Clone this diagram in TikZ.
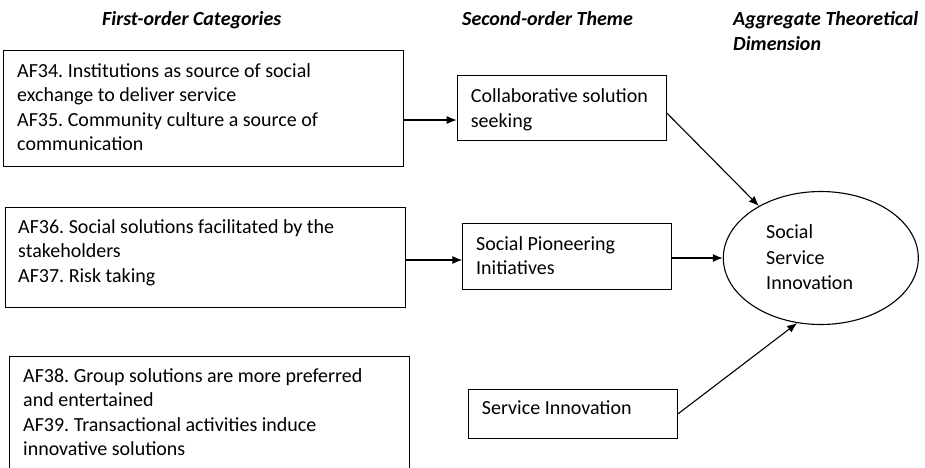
\documentclass[tikz,border=0pt]{standalone}
\usepackage{fontspec}
\setmainfont{Carlito}
\frenchspacing
\usetikzlibrary{shapes.geometric,arrows.meta}
\tikzset{
  box/.style={draw, line width=1.1pt, inner sep=0pt, anchor=north west},
  txt/.style={anchor=base west, inner sep=0pt, align=left, font=\fontsize{20}{24.5}\selectfont},
  head/.style={anchor=base west, inner sep=0pt, align=left, font=\fontsize{20}{24.5}\selectfont\bfseries\itshape},
  arr/.style={line width=1.1pt, -{Latex[length=10pt,width=8pt]}}
}
\begin{document}
\begin{tikzpicture}[x=1pt,y=-1pt]
\useasboundingbox (0,0) rectangle (925,467);
\clip (0,0) rectangle (925,467);
% headers (anchor = baseline of last line)
\node[head] (h1) at (102,25.5) {First-order Categories};
\node[head] (h2) at (462,25.5) {Second-order Theme};
\node[head] (h3) at (733,50) {Aggregate Theoretical\\Dimension};
% first-order boxes
\node[box, minimum width=400, minimum height=116] (b1) at (3,50) {};
\node[txt] (t1) at (17,150.5) {AF34. Institutions as source of social\\exchange to deliver service\\AF35. Community culture a source of\\communication};
\node[box, minimum width=400, minimum height=100] (b2) at (5,207) {};
\node[txt] (t2) at (18,282) {AF36. Social solutions facilitated by the\\stakeholders\\AF37. Risk taking};
\node[box, minimum width=400, minimum height=130] (b3) at (9,356) {};
\node[txt] (t3) at (23,455.5) {AF38. Group solutions are more preferred\\and entertained\\AF39. Transactional activities induce\\innovative solutions};
% second-order boxes
\node[box, minimum width=209, minimum height=65] (A) at (456.7,75) {};
\node[txt] (tA) at (470.7,127.2) {Collaborative solution\\seeking};
\node[box, minimum width=209, minimum height=65.4] (B) at (462.3,223.3) {};
\node[txt] (tB) at (476,274.5) {Social Pioneering\\Initiatives};
\node[box, minimum width=209, minimum height=48.4] (C) at (467.7,389.3) {};
\node[txt] (tC) at (481.7,414) {Service Innovation};
% aggregate
\node[draw, ellipse, line width=1.1pt, minimum width=195, minimum height=133, inner sep=0pt] (E) at (820.8,258) {};
\node[txt, font=\fontsize{20}{25.8}\selectfont] (tE) at (766,289.9) {Social\\Service\\Innovation};
% connectors
\draw[arr] (b1.east |- 0,120) -- (A.west |- 0,120);
\draw[arr] (b2.east |- 0,260) -- (B.west |- 0,260);
\draw[arr] (A.east |- 0,113) -- (E.140);
\draw[arr] (B.east |- E.west) -- (E.west);
\draw[arr] (C.east |- 0,414) -- (E.250);
\end{tikzpicture}
\end{document}
